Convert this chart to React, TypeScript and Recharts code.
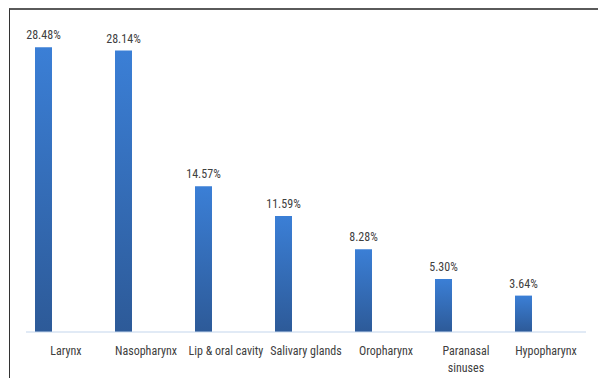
import React from 'react';
import { BarChart, Bar, XAxis, YAxis, LabelList } from 'recharts';

const categories = ['Larynx', 'Nasopharynx', 'Lip & oral cavity', 'Salivary glands', 'Oropharynx', 'Paranasal sinuses', 'Hypopharynx'];
const values = [28.48, 28.14, 14.57, 11.59, 8.28, 5.3, 3.64];
const tickLabels: string[][] = [['Larynx'], ['Nasopharynx'], ['Lip & oral cavity'], ['Salivary glands'], ['Oropharynx'], ['Paranasal', 'sinuses'], ['Hypopharynx']];

const data = categories.map((c, i) => ({ name: c, value: values[i], idx: i }));

const FONT = '"Liberation Sans Narrow", "Roboto Condensed", "Liberation Sans", sans-serif';

const Tick = (props: any) => {
  const { x, y, payload } = props;
  const lines = tickLabels[payload.index] || [String(payload.value)];
  return (
    <text x={x} y={y} textAnchor="middle" fill="#404040" fontSize={12} fontFamily={FONT}>
      {lines.map((l, i) => (
        <tspan key={i} x={x} dy={i === 0 ? 15 : 17}>{l}</tspan>
      ))}
    </text>
  );
};

export default function App() {
  return (
    <div style={{ position: 'absolute', left: 0, top: 0, width: 598, height: 378, background: '#fff' }}>
      <div style={{ position: 'absolute', left: 9, top: 8, width: 589, height: 370, borderTop: '2px solid #5a5a5a', borderLeft: '1px solid #333', boxSizing: 'border-box' }} />
      <div style={{ position: 'absolute', left: 0, top: 0 }}>
        <BarChart
          width={598}
          height={378}
          data={data}
          margin={{ top: 32, right: 12, bottom: 0, left: 26 }}
          barGap={28}
          barCategoryGap={0}
        >
          <defs>
            <linearGradient id="barGrad" x1="0" y1="0" x2="0" y2="1">
              <stop offset="0%" stopColor="#3b7fd6" />
              <stop offset="100%" stopColor="#2d5a98" />
            </linearGradient>
          </defs>
          <XAxis
            dataKey="name"
            height={46}
            axisLine={{ stroke: '#c3d5ec', strokeWidth: 1 }}
            tickLine={false}
            interval={0}
            tick={<Tick />}
          />
          <YAxis hide domain={[0, 30]} />
          <Bar dataKey="value" fill="url(#barGrad)" barSize={17} isAnimationActive={false}>
            <LabelList
              dataKey="value"
              position="top"
              offset={8}
              formatter={(v: any) => `${Number(v).toFixed(2)}%`}
              fill="#404040"
              fontSize={12}
              fontFamily={FONT}
            />
          </Bar>
          <Bar dataKey="none" fill="transparent" barSize={17} isAnimationActive={false} />
        </BarChart>
      </div>
    </div>
  );
}
